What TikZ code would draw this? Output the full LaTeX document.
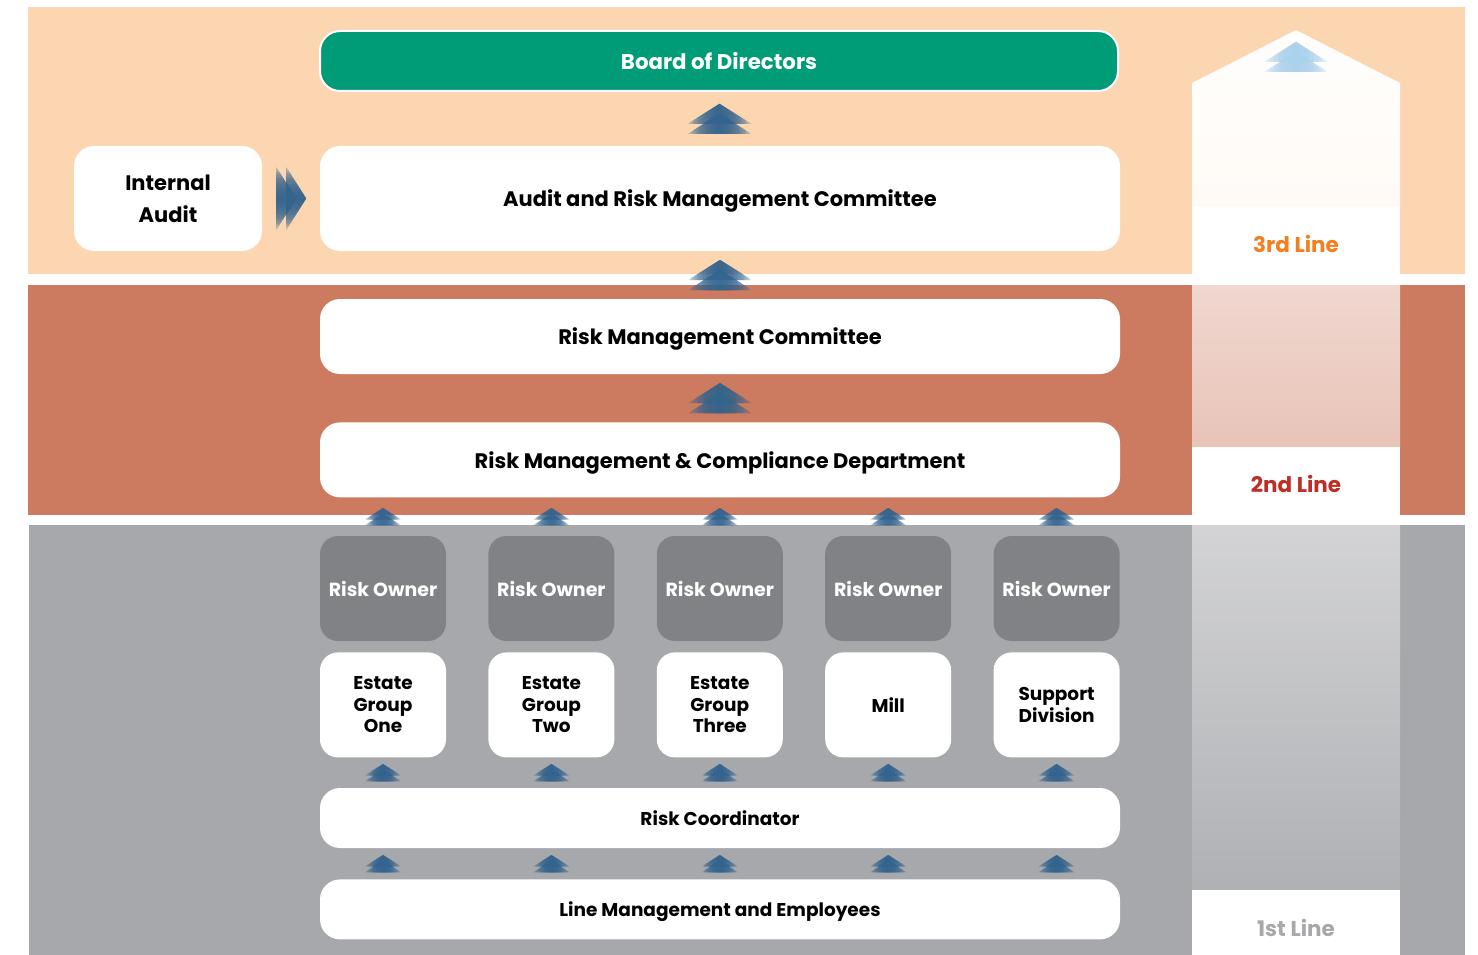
\documentclass[tikz,border=0pt]{standalone}
\usepackage{fontspec}
\setmainfont{Poppins}
\usetikzlibrary{positioning, calc}

\definecolor{peach}{HTML}{FCD5B1}
\definecolor{rust}{HTML}{CD7B60}
\definecolor{slate}{HTML}{A7A8AC}
\definecolor{ownergray}{HTML}{808285}
\definecolor{boardgreen}{HTML}{009B77}
\definecolor{chevblue}{HTML}{33648F}
\definecolor{chevlight}{HTML}{A9D2EC}
\definecolor{thirdorange}{HTML}{F47F20}
\definecolor{secondred}{HTML}{BE2E24}

\tikzstyle{mainbox} = [rectangle, rounded corners=20, minimum width=800, minimum height=75, inner sep=0, text depth=0, fill=white, text centered, font=\fontsize{21}{25}\selectfont\bfseries]
\tikzstyle{thinbox} = [mainbox, minimum height=60, font=\fontsize{18.5}{22}\selectfont\bfseries]
\tikzstyle{boardbox} = [mainbox, minimum width=798, minimum height=60, fill=boardgreen, draw=white, line width=2, text=white, font=\fontsize{21.3}{25}\selectfont\bfseries]
\tikzstyle{ownerbox} = [rectangle, rounded corners=18, minimum width=126, minimum height=105, inner sep=0, fill=ownergray, text=white, font=\fontsize{19}{22}\selectfont\bfseries]
\tikzstyle{unitbox} = [ownerbox, fill=white, text=black, align=center, font=\fontsize{18.5}{21.5}\selectfont\bfseries]
\tikzstyle{linelabel} = [font=\fontsize{21.5}{25}\selectfont\bfseries]

% one chevron triangle, fading out towards both sides
\newcommand{\chevtri}[2]{%
  \begin{scope}
    \clip (-32,#2+10) -- (0,#2-10) -- (32,#2+10) -- cycle;
    \foreach \k in {0,...,17} {
      \fill[#1, opacity=0.15] (-32+1.7*\k,#2-11) rectangle (32-1.7*\k,#2+11);
    }
  \end{scope}}

\tikzset{
  pics/upchev/.style={code={\chevtri{#1}{-5}\chevtri{#1}{5}}}
}

\begin{document}
\begin{tikzpicture}[x=1pt, y=-1pt, node distance=42pt]

    \useasboundingbox (0,0) rectangle (1478,955);

    % bands
    \fill[peach] (28,7) rectangle (1465,274);
    \fill[rust] (28,285) rectangle (1465,515);
    \fill[slate] (29,525) rectangle (1465,955);

    % lines of defence column
    \shade[top color=white!97!peach, bottom color=white!88!peach] (1192,83) -- (1296,30) -- (1400,83) -- (1400,207) -- (1192,207) -- cycle;
    \fill[white] (1192,207) rectangle (1400,285);
    \shade[top color=white!70!rust, bottom color=white!55!rust] (1192,285) rectangle (1400,447);
    \fill[white] (1192,447) rectangle (1400,525);
    \shade[top color=white!50!slate, bottom color=white!10!slate] (1192,525) rectangle (1400,890);
    \fill[white] (1192,890) rectangle (1400,955);

    \node (third) at (1296,244) [linelabel, text=thirdorange] {3rd Line};
    \node (second) at (1296,484) [linelabel, text=secondred] {2nd Line};
    \node (first) at (1296,928) [linelabel, text=slate] {1st Line};
    \pic at (1296,57) {upchev=chevlight};

    % boxes
    \node (board) at (719,61) [boardbox] {Board of Directors};
    \node (armc) at (720,198.5) [mainbox, minimum height=105] {Audit and Risk Management Committee};
    \node (audit) at (168,198.5) [mainbox, minimum width=188, minimum height=105, align=center, font=\fontsize{21}{32}\selectfont\bfseries] {Internal\\Audit};
    \node (rmc) at (720,336.5) [mainbox] {Risk Management Committee};
    \node (rmcd) [mainbox, below=48pt of rmc] {Risk Management \& Compliance Department};

    \node (owner1) at (383,588.5) [ownerbox] {Risk Owner};
    \node (owner2) [ownerbox, right=of owner1] {Risk Owner};
    \node (owner3) [ownerbox, right=of owner2] {Risk Owner};
    \node (owner4) [ownerbox, right=of owner3] {Risk Owner};
    \node (owner5) [ownerbox, right=of owner4] {Risk Owner};

    \node (unit1) [unitbox, below=11pt of owner1] {Estate\\Group\\One};
    \node (unit2) [unitbox, below=11pt of owner2] {Estate\\Group\\Two};
    \node (unit3) [unitbox, below=11pt of owner3] {Estate\\Group\\Three};
    \node (unit4) [unitbox, below=11pt of owner4] {Mill};
    \node (unit5) [unitbox, below=11pt of owner5] {Support\\Division};

    \node (coord) at (720,818) [thinbox] {Risk Coordinator};
    \node (linemgmt) [thinbox, below=31pt of coord] {Line Management and Employees};

    % chevrons
    \pic at ($(board.south)!0.5!(armc.north)$) {upchev=chevblue};
    \pic[rotate=-90] at ($(audit.east)!0.5!(armc.west)$) {upchev=chevblue};
    \pic at ($(armc.south)!0.5!(rmc.north)$) {upchev=chevblue};
    \pic at ($(rmc.south)!0.5!(rmcd.north)$) {upchev=chevblue};

    \pic[scale=0.57] at ($(owner1.north)!0.5!(owner1.north |- rmcd.south)$) {upchev=chevblue};
    \pic[scale=0.57] at ($(owner2.north)!0.5!(owner2.north |- rmcd.south)$) {upchev=chevblue};
    \pic[scale=0.57] at ($(owner3.north)!0.5!(owner3.north |- rmcd.south)$) {upchev=chevblue};
    \pic[scale=0.57] at ($(owner4.north)!0.5!(owner4.north |- rmcd.south)$) {upchev=chevblue};
    \pic[scale=0.57] at ($(owner5.north)!0.5!(owner5.north |- rmcd.south)$) {upchev=chevblue};

    \pic[scale=0.57] at ($(unit1.south)!0.5!(unit1.south |- coord.north)$) {upchev=chevblue};
    \pic[scale=0.57] at ($(unit2.south)!0.5!(unit2.south |- coord.north)$) {upchev=chevblue};
    \pic[scale=0.57] at ($(unit3.south)!0.5!(unit3.south |- coord.north)$) {upchev=chevblue};
    \pic[scale=0.57] at ($(unit4.south)!0.5!(unit4.south |- coord.north)$) {upchev=chevblue};
    \pic[scale=0.57] at ($(unit5.south)!0.5!(unit5.south |- coord.north)$) {upchev=chevblue};

    \pic[scale=0.57] at ($(unit1.south |- coord.south)!0.5!(unit1.south |- linemgmt.north)$) {upchev=chevblue};
    \pic[scale=0.57] at ($(unit2.south |- coord.south)!0.5!(unit2.south |- linemgmt.north)$) {upchev=chevblue};
    \pic[scale=0.57] at ($(unit3.south |- coord.south)!0.5!(unit3.south |- linemgmt.north)$) {upchev=chevblue};
    \pic[scale=0.57] at ($(unit4.south |- coord.south)!0.5!(unit4.south |- linemgmt.north)$) {upchev=chevblue};
    \pic[scale=0.57] at ($(unit5.south |- coord.south)!0.5!(unit5.south |- linemgmt.north)$) {upchev=chevblue};

\end{tikzpicture}
\end{document}
